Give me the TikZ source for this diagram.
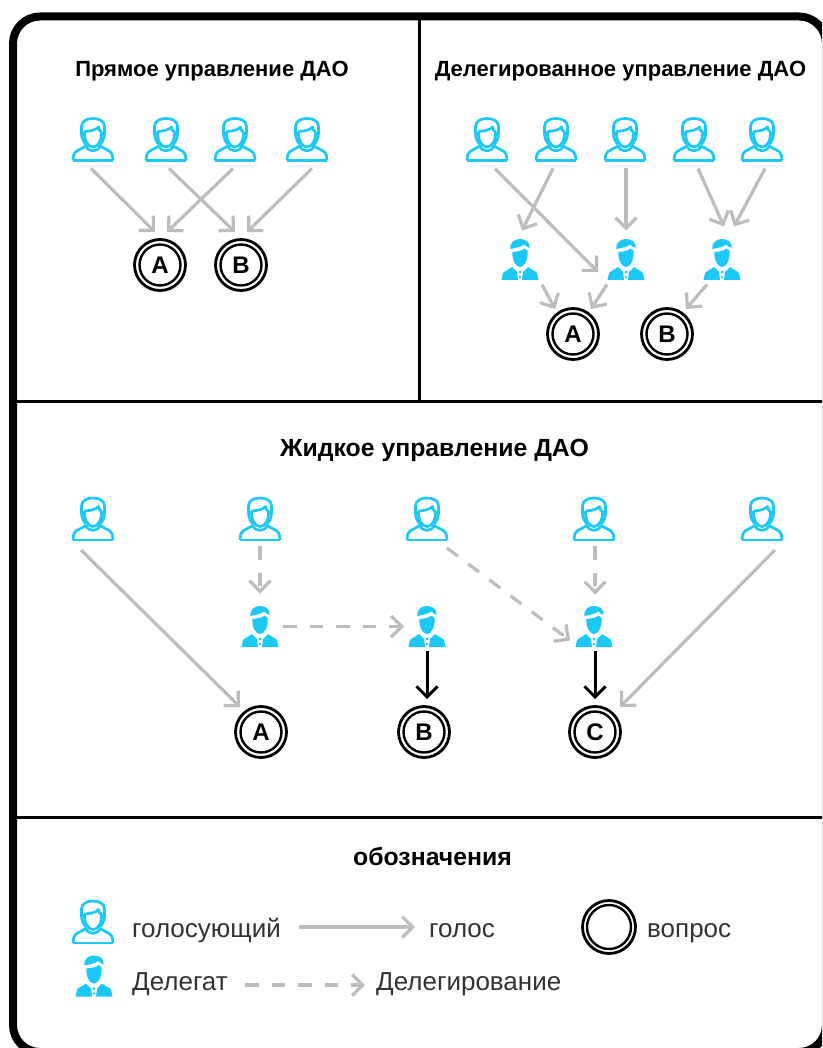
\documentclass[tikz,border=0pt]{standalone}
\usepackage{fontspec}
\setmainfont{Liberation Sans}
\usetikzlibrary{arrows.meta}
\definecolor{cy}{HTML}{1CC8F5}
\definecolor{gr}{HTML}{BDBDBD}
\definecolor{tx}{HTML}{333333}
\tikzset{
  x=1pt,y=-1pt,
  arr/.style={draw=gr,line width=3.2pt,-{Straight Barb[length=10.5pt,width=21pt,line width=3.2pt]}},
  dsh/.style={arr,dash pattern=on 13.5pt off 13pt},
  blk/.style={draw=black,line width=3pt,-{Straight Barb[length=10.5pt,width=21pt,line width=3pt]}},
  title/.style={font=\bfseries\fontsize{22}{26}\selectfont,text=black,inner sep=0pt,anchor=base},
  bigtitle/.style={font=\bfseries\fontsize{24.8}{28}\selectfont,text=black,inner sep=0pt,anchor=base},
  legend/.style={font=\fontsize{26}{30}\selectfont,text=tx,inner sep=0pt,anchor=base west},
  holder/.style={inner sep=0pt,minimum width=40pt,minimum height=44pt},
  votericon/.pic={
    \begin{scope}[draw=cy,line width=2.7pt,line join=round,fill=none]
      \draw (-7,27) .. controls (-9,25) and (-11.5,21) .. (-11.5,16) -- (-11.5,9) .. controls (-11.5,3.5) and (-6,1) .. (0,1)
            .. controls (6,1) and (11.5,3.5) .. (11.5,9) -- (11.5,16) .. controls (11.5,21) and (9,25) .. (7,27);
      \draw (-8.5,14) .. controls (-9,23) and (-5,29.5) .. (0,29.5) .. controls (5,29.5) and (9,23) .. (8.5,14);
      \draw (-8.5,14) .. controls (-2,13.5) and (3,12.5) .. (5.5,9.5) -- (6.5,13) -- (8.5,14);
      \draw (-20,43) -- (20,43);
      \draw (-20,43) .. controls (-19.5,37) and (-19,35.5) .. (-17,34) -- (-7,28.5)
            .. controls (-5,35) and (5,35) .. (7,28.5) -- (17,34) .. controls (19,35.5) and (19.5,37) .. (20,43);
    \end{scope}
  },
  delegateicon/.pic={
    \begin{scope}
      \fill[cy] (-9.5,10) .. controls (-10.5,3) and (-5,0) .. (0,0) .. controls (5,0) and (10.5,3) .. (9.5,9)
            .. controls (7,8.5) and (6,7) .. (4.5,5.5) .. controls (1,8) and (-5,9) .. (-9.5,10);
      \fill[cy] (-7.7,13) .. controls (-3,12.5) and (2,12) .. (4.5,9.5) .. controls (5.5,10.5) and (6.5,11.5) .. (7.7,12)
            .. controls (8,21) and (4.5,28) .. (0,28) .. controls (-4.5,28) and (-8,21) .. (-7.7,13);
      \fill[cy] (-18.5,41) -- (-17,34) .. controls (-16,32.5) and (-12,31) .. (-8,28) -- (-3,33) -- (-2,41) -- cycle;
      \fill[cy] (18.5,41) -- (17,34) .. controls (16,32.5) and (12,31) .. (8,28) -- (3,33) -- (2,41) -- cycle;
      \fill[cy] (0,33) circle (1.5) (0,38) circle (1.3);
    \end{scope}
  }
}
\newcommand{\voter}[3]{\node[holder] (#1) at (#2,#3) {}; \pic at ([yshift=22pt]#1.center) {votericon};}
\newcommand{\delegate}[3]{\node[holder,minimum width=36pt,minimum height=41pt] (#1) at (#2,#3) {}; \pic at ([yshift=20.5pt]#1.center) {delegateicon};}
\newcommand{\question}[4]{%
  \node[circle,draw=black,line width=2.8pt,minimum size=51pt,inner sep=0pt] (#1) at (#2,#3) {};
  \node[circle,draw=black,line width=2.4pt,minimum size=41pt,inner sep=0pt,font=\bfseries\fontsize{24}{27}\selectfont] (#1t) at (#2,#3) {#4};}
\begin{document}
\begin{tikzpicture}
\useasboundingbox (0,0) rectangle (822,1048);
\fill[white] (0,0) rectangle (822,1048);
\begin{scope}
\clip (0,0) rectangle (822,1048);
\draw[line width=8pt,rounded corners=27pt] (13,16.5) rectangle (826,1052);
\coordinate (vtop) at (419,16); \coordinate (vbot) at (419,401);
\coordinate (h1l) at (13,401); \coordinate (h1r) at (822,401);
\coordinate (h2l) at (13,817); \coordinate (h2r) at (822,817);
\draw[line width=3pt] (vtop) -- (vbot);
\draw[line width=3pt] (h1l) -- (h1r);
\draw[line width=3pt] (h2l) -- (h2r);
\end{scope}

\node[title] (t1) at (212,77) {Прямое управление ДАО};
\node[title] (t2) at (620.5,77) {Делегированное управление ДАО};
\node[bigtitle] (t3) at (434.5,456.5) {Жидкое управление ДАО};
\node[bigtitle] (t4) at (432.5,865) {обозначения};

% panel 1
\voter{a1}{93}{139.5}\voter{a2}{166}{139.5}\voter{a3}{235}{139.5}\voter{a4}{307}{139.5}
\question{aA}{160}{265}{A}\question{aB}{241}{265}{B}
\draw[arr] ([shift={(-2,29)}]a1.center) -- ([shift={(-5,-33)}]aA.center);
\draw[arr] ([shift={(-2,29)}]a3.center) -- ([shift={(7,-33)}]aA.center);
\draw[arr] ([shift={(3,29)}]a2.center) -- ([shift={(-6,-33)}]aB.center);
\draw[arr] ([shift={(5,29)}]a4.center) -- ([shift={(6,-33)}]aB.center);

% panel 2
\voter{b1}{487}{139.5}\voter{b2}{556}{139.5}\voter{b3}{625}{139.5}\voter{b4}{694}{139.5}\voter{b5}{762}{139.5}
\delegate{bd1}{520}{259.5}\delegate{bd2}{626}{259.5}\delegate{bd3}{722}{259.5}
\question{bA}{573}{334}{A}\question{bB}{667}{334}{B}
\draw[arr] ([shift={(8,29)}]b1.center) -- ([shift={(-28,12.5)}]bd2.center);
\draw[arr] ([shift={(-3,29)}]b2.center) -- ([shift={(2,-29)}]bd1.center);
\draw[arr] ([shift={(1,29)}]b3.center) -- ([shift={(0,-29)}]bd2.center);
\draw[arr] ([shift={(4,29)}]b4.center) -- ([shift={(2,-33)}]bd3.center);
\draw[arr] ([shift={(3,29)}]b5.center) -- ([shift={(12,-33)}]bd3.center);
\draw[arr] ([shift={(22,25)}]bd1.center) -- ([shift={(-18,-25)}]bA.center);
\draw[arr] ([shift={(-19,25)}]bd2.center) -- ([shift={(18,-25)}]bA.center);
\draw[arr] ([shift={(-15,25)}]bd3.center) -- ([shift={(19,-25)}]bB.center);

% panel 3
\voter{c1}{93}{519}\voter{c2}{260}{519}\voter{c3}{427}{519}\voter{c4}{594}{519}\voter{c5}{762}{519}
\delegate{cd1}{260}{626.5}\delegate{cd2}{427}{626.5}\delegate{cd3}{594}{626.5}
\question{cA}{261}{732}{A}\question{cB}{424}{732}{B}\question{cC}{595}{732}{C}
\draw[arr] ([shift={(-12,31)}]c1.center) -- ([shift={(-21,-25)}]cA.center);
\draw[dsh] ([shift={(0,27)}]c2.center) -- ([shift={(0,-33)}]cd1.center);
\draw[dsh] ([shift={(23,0)}]cd1.center) -- ([shift={(-23,0)}]cd2.center);
\draw[dsh] ([shift={(20,29)}]c3.center) -- ([shift={(-24,14)}]cd3.center);
\draw[dsh] ([shift={(1,27)}]c4.center) -- ([shift={(1,-32)}]cd3.center);
\draw[arr] ([shift={(13,31)}]c5.center) -- ([shift={(25,-25)}]cC.center);
\draw[blk] ([shift={(0,24.5)}]cd2.center) -- ([shift={(3,-33)}]cB.center);
\draw[blk] ([shift={(1,24.5)}]cd3.center) -- ([shift={(0,-33)}]cC.center);

% legend
\voter{l1}{93}{922}
\delegate{l2}{94}{976}
\node[legend] (lt1) at (132,937) {голосующий};
\node[legend] (lt2) at (429,937) {голос};
\node[legend] (lt3) at (647,937) {вопрос};
\node[legend] (lt4) at (132,990) {Делегат};
\node[legend] (lt5) at (376,990) {Делегирование};
\node[circle,draw=black,line width=2.8pt,minimum size=53pt,inner sep=0pt] (lq1) at (609,927) {};
\node[circle,draw=black,line width=2.4pt,minimum size=44pt,inner sep=0pt] (lq2) at (609,927) {};
\coordinate (la) at (299,927); \coordinate (lb) at (415,927);
\coordinate (lc) at (245,985); \coordinate (ld) at (365,985);
\draw[arr] (la) -- (lb);
\draw[dsh] (lc) -- (ld);
\end{tikzpicture}
\end{document}
